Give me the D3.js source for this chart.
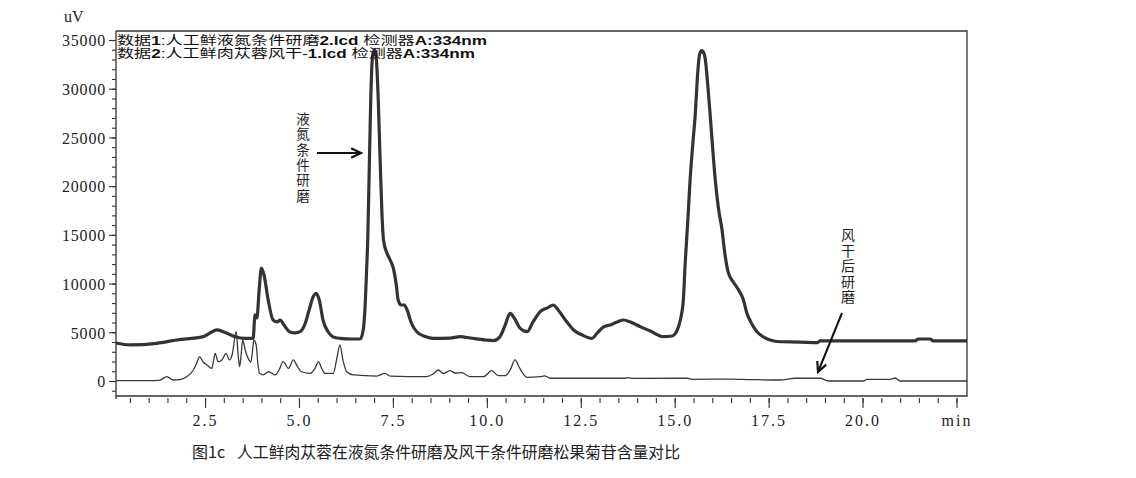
<!DOCTYPE html>
<html>
<head>
<meta charset="utf-8">
<script src="https://cdn.jsdelivr.net/npm/d3@7"></script>
<style>
  html, body { margin: 0; padding: 0; background: #fff; }
  svg { display: block; }
</style>
</head>
<body>
<svg id="chart" width="1136" height="478"></svg>
<script>
// ---------- DATA ----------
// Series 1: 液氮条件研磨 (thick line) — time (min) and signal (uV)
const s1Time = [0.13,0.50,1.22,1.75,2.45,2.63,2.82,3.00,3.30,3.56,3.78,3.83,3.88,3.94,4.00,4.07,4.18,4.31,4.42,4.50,4.60,4.76,4.90,5.03,5.16,5.27,5.38,5.46,5.54,5.64,5.78,5.91,6.09,6.41,6.63,6.71,6.76,6.80,6.83,6.87,6.91,6.95,7.00,7.05,7.11,7.16,7.21,7.25,7.34,7.40,7.45,7.51,7.59,7.64,7.72,7.80,7.88,7.98,8.14,8.36,8.57,9.02,9.29,9.56,9.96,10.17,10.35,10.49,10.62,10.73,10.88,11.07,11.23,11.42,11.61,11.77,11.90,12.09,12.31,12.54,12.80,12.94,13.10,13.28,13.47,13.64,13.82,14.08,14.35,14.70,14.93,15.07,15.15,15.23,15.28,15.35,15.41,15.48,15.55,15.60,15.66,15.72,15.76,15.81,15.88,15.94,16.01,16.08,16.16,16.26,16.34,16.43,16.56,16.70,16.83,16.92,17.04,17.19,17.36,17.54,17.81,18.34,18.79,18.87,20.20,21.40,21.48,21.80,21.88,22.78];
const s1Signal = [3900,3700,3870,4210,4550,4930,5240,5030,4550,4380,4380,6780,6470,9340,11600,10880,8320,6260,6060,6260,5750,5030,4930,5060,5850,7290,8660,9000,8320,6260,5030,4520,4380,4310,4310,5240,7630,11400,14480,21660,28850,32960,33980,33470,28850,22690,17040,14480,13140,12630,12220,11600,9860,8320,7800,7800,7290,6060,5030,4570,4380,4410,4550,4410,4210,4140,4550,5750,6950,6470,5440,5060,6060,7120,7500,7800,7290,6260,5240,4720,4380,4930,5540,5750,6060,6260,6060,5580,5130,4550,4620,5240,6260,8320,12120,16530,20640,24230,27520,30900,33470,33910,33780,33160,30390,27520,23920,20640,17860,15500,12940,11090,10160,9340,8320,6980,5950,5060,4520,4210,4030,4000,3930,4110,4110,4110,4310,4310,4110,4110];

// Series 2: 风干后研磨 (thin line)
const s2Time = [0.13,1.04,1.30,1.48,1.66,1.83,2.01,2.19,2.29,2.35,2.45,2.55,2.68,2.73,2.77,2.85,2.95,3.06,3.15,3.22,3.33,3.38,3.42,3.46,3.50,3.57,3.61,3.67,3.72,3.78,3.80,3.86,3.91,3.95,4.05,4.19,4.36,4.47,4.58,4.72,4.85,4.95,5.07,5.30,5.43,5.52,5.60,5.69,5.91,6.01,6.09,6.17,6.27,6.45,7.07,7.29,7.43,8.40,8.57,8.71,8.84,9.02,9.16,9.33,9.56,9.91,10.13,10.30,10.49,10.62,10.75,10.86,10.93,11.07,11.42,11.53,11.69,13.68,13.76,13.90,15.33,15.50,16.48,17.01,17.81,18.21,18.87,19.09,20.02,20.12,20.74,20.87,21.00,22.78];
const s2Signal = [30,30,100,440,100,150,440,1130,1950,2500,1950,1640,1300,2160,2840,1980,2160,2840,2160,2670,5060,2670,1470,2670,4210,3180,2670,2160,1950,3700,4210,3700,1640,790,620,950,620,1130,1980,1300,2160,1540,950,790,1330,1980,1330,790,790,2360,3700,2160,950,620,510,790,510,440,720,1130,770,1060,820,850,440,440,1060,560,560,1130,2160,1440,950,380,440,530,280,280,340,260,280,170,200,150,100,280,280,0,0,170,170,310,0,0];

// Axis ticks and labels
const yMajorTicks = [0,5000,10000,15000,20000,25000,30000,35000];
const yMinorTicks = d3.range(-1000, 35001, 1000);
const xMajorTicks = [2.5,5.0,7.5,10.0,12.5,15.0,17.5,20.0,22.5];
const xMajorLabels = ["2.5","5.0","7.5","10.0","12.5","15.0","17.5","20.0","min"];
const xMinorTicks = d3.range(0.5, 22.51, 0.5);
const yUnit = "uV";

// Legend lines: [text, bold?] pieces
const legend1 = [["数据",0],["1",1],[":人工鲜液氮条件研磨",0],["2.lcd",1],[" 检测器",0],["A:334nm",1]];
const legend2 = [["数据",0],["2",1],[":人工鲜肉苁蓉风干-",0],["1.lcd",1],[" 检测器",0],["A:334nm",1]];
const annot1 = "液氮条件研磨";
const annot2 = "风干后研磨";
const captionFig = "图1c";
const captionText = "人工鲜肉苁蓉在液氮条件研磨及风干条件研磨松果菊苷含量对比";

// ---------- DRAW ----------
const svg = d3.select("#chart");
const L = 116, R = 967, T = 31, B = 396;

const x = d3.scaleLinear().domain([0.13, 22.78]).range([L, R]);
const y = d3.scaleLinear().domain([-1540, 35925]).range([B, T]);

const serif = "'Liberation Serif','DejaVu Serif',serif";
const cjk = "'Liberation Sans','Noto Sans CJK SC',sans-serif";
const axisColor = "#333";

// Frame
svg.append("path")
  .attr("d", `M${L},${T}H${R}V${B}H${L}V${T}`)
  .attr("fill", "none").attr("stroke", axisColor).attr("stroke-width", 1.3);
svg.append("line").attr("x1", L).attr("x2", L).attr("y1", B).attr("y2", 399)
  .attr("stroke", axisColor).attr("stroke-width", 1.3);

// Y axis minor
const yMinorG = svg.append("g").attr("transform", `translate(${L},0)`)
  .call(d3.axisLeft(y).tickValues(yMinorTicks).tickSize(4).tickFormat(""));
yMinorG.select(".domain").remove();
// Y axis major
const yMajorG = svg.append("g").attr("transform", `translate(${L},0)`)
  .call(d3.axisLeft(y).tickValues(yMajorTicks).tickSize(7).tickPadding(3).tickFormat(d => String(d)));
yMajorG.select(".domain").remove();
svg.selectAll("g .tick line").attr("stroke", axisColor).attr("stroke-width", 1.1);
yMajorG.selectAll("text")
  .attr("font-family", serif).attr("font-size", 16).attr("fill", "#222")
  .attr("letter-spacing", "0.8px").attr("dy", "0.36em");

// X axis
const xMinorG = svg.append("g").attr("transform", `translate(0,398)`)
  .call(d3.axisBottom(x).tickValues(xMinorTicks).tickSize(5).tickFormat(""));
xMinorG.select(".domain").remove();
const xMajorG = svg.append("g").attr("transform", `translate(0,398)`)
  .call(d3.axisBottom(x).tickValues(xMajorTicks).tickSize(10).tickPadding(4)
    .tickFormat((d, i) => xMajorLabels[i]));
xMajorG.select(".domain").remove();
svg.selectAll("g .tick line").attr("stroke", axisColor).attr("stroke-width", 1.1);
xMajorG.selectAll("text")
  .attr("font-family", serif).attr("font-size", 16).attr("fill", "#222")
  .attr("letter-spacing", "2px").attr("dy", "0.9em");

// unit label
svg.append("text").attr("x", 64).attr("y", 22).text(yUnit)
  .attr("font-family", serif).attr("font-size", 16).attr("fill", "#222");

// Lines
const s1 = s1Time.map((t, i) => [t, s1Signal[i]]);
const s2 = s2Time.map((t, i) => [t, s2Signal[i]]);
const line = d3.line().x(d => x(d[0])).y(d => y(d[1])).curve(d3.curveMonotoneX);

svg.append("path").datum(s2).attr("d", line)
  .attr("fill", "none").attr("stroke", "#3a3a3a").attr("stroke-width", 1.3)
  .attr("stroke-linejoin", "round");
svg.append("path").datum(s1).attr("d", line)
  .attr("fill", "none").attr("stroke", "#333").attr("stroke-width", 3.2)
  .attr("stroke-linejoin", "round");

// Legend texts
function legendLine(pieces, yy, len) {
  const t = svg.append("text").attr("x", 117).attr("y", yy)
    .attr("font-family", cjk).attr("font-size", 12.5).attr("fill", "#111")
    .attr("textLength", len).attr("lengthAdjust", "spacingAndGlyphs");
  pieces.forEach(p => {
    t.append("tspan").text(p[0]).attr("font-weight", p[1] ? "bold" : "normal");
  });
}
legendLine(legend1, 44.5, 370);
legendLine(legend2, 58, 358);

// Vertical annotations (vertical writing mode, one text element each)
function vertText(str, cx, yTop, step, fs) {
  svg.append("text").attr("x", cx).attr("y", yTop)
    .attr("writing-mode", "tb")
    .style("writing-mode", "vertical-rl")
    .attr("font-family", "'Noto Sans CJK SC',sans-serif")
    .attr("font-size", fs).attr("fill", "#222")
    .attr("letter-spacing", (step - fs) + "px")
    .text(str);
}
vertText(annot1, 303, 112, 15.4, 13.5);
vertText(annot2, 848, 228, 15.5, 14);

// Arrows
function arrow(x1, y1, x2, y2) {
  const ang = Math.atan2(y2 - y1, x2 - x1);
  const hl = 11, hw = 0.45;
  svg.append("line").attr("x1", x1).attr("y1", y1).attr("x2", x2).attr("y2", y2)
    .attr("stroke", "#111").attr("stroke-width", 2);
  const a1 = [x2 - hl * Math.cos(ang - hw), y2 - hl * Math.sin(ang - hw)];
  const a2 = [x2 - hl * Math.cos(ang + hw), y2 - hl * Math.sin(ang + hw)];
  svg.append("path").attr("d", `M${a1[0]},${a1[1]}L${x2},${y2}L${a2[0]},${a2[1]}`)
    .attr("fill", "none").attr("stroke", "#111").attr("stroke-width", 2.2)
    .attr("stroke-linejoin", "miter");
}
arrow(317, 153, 361, 153);
arrow(842, 313, 818, 372);

// Caption
svg.append("text").attr("x", 192).attr("y", 458).text(captionFig)
  .attr("font-family", "'Noto Sans CJK SC',serif").attr("font-size", 16).attr("fill", "#222");
svg.append("text").attr("x", 237).attr("y", 458).text(captionText)
  .attr("font-family", "'Noto Sans CJK SC',serif").attr("font-size", 16).attr("fill", "#222")
  .attr("textLength", 443).attr("lengthAdjust", "spacingAndGlyphs");
</script>
</body>
</html>
